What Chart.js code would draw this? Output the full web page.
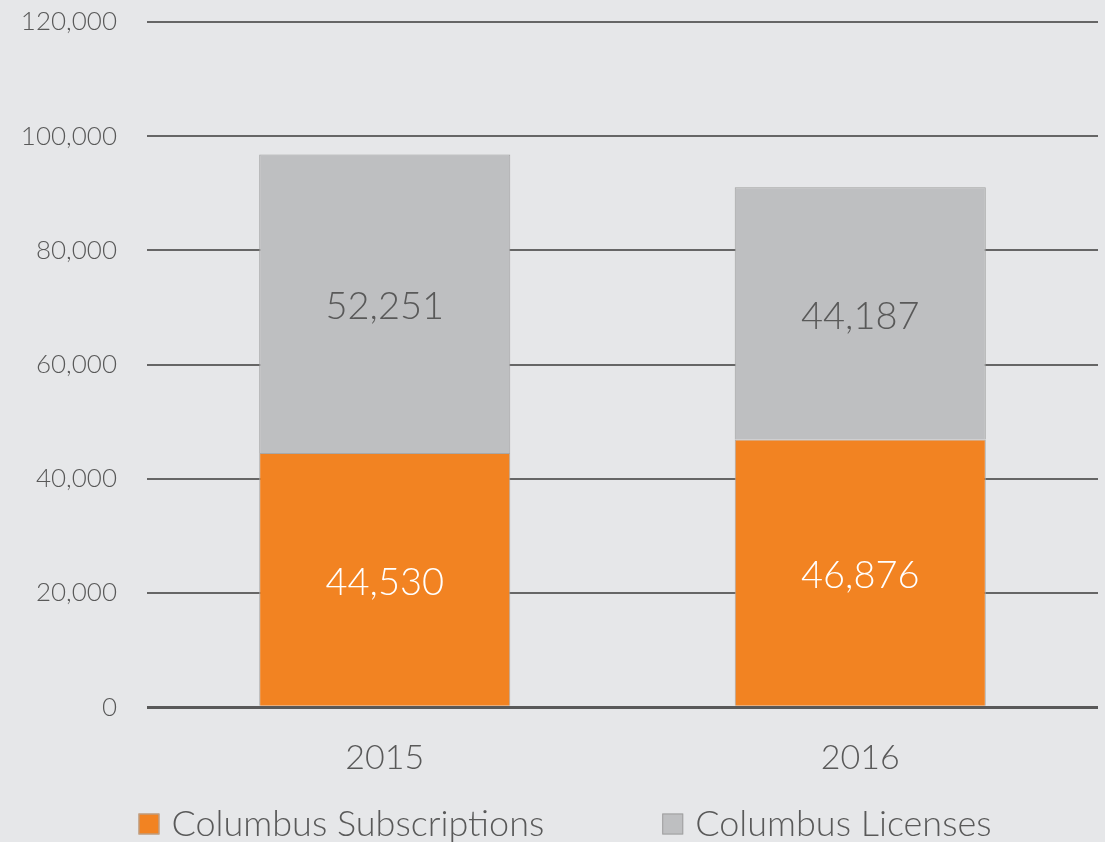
<!DOCTYPE html>
<html>
<head>
<meta charset="utf-8">
<script src="https://cdn.jsdelivr.net/npm/chart.js@4/dist/chart.umd.min.js"></script>
<style>
  html, body { margin: 0; padding: 0; background: #e6e7e9; }
  #wrap { width: 1105px; height: 842px; }
</style>
</head>
<body>
<div id="wrap"><canvas id="myChart" width="1105" height="842"></canvas></div>
<script>
/*
  • Data
  ---------- ---------- ---------- ---------- ----------
*/
const years = ['2015', '2016'];
const subscriptions = [44530, 46876];
const licenses = [52251, 44187];
const yTicks = [0, 20000, 40000, 60000, 80000, 100000, 120000];

/*
  • Config
  ---------- ---------- ---------- ---------- ----------
*/
const FONT = 'Lato';
const TEXT_GREY = '#595959';

// value in the middle of each bar segment
const labelsOnBars = {
  id: 'labelsOnBars',
  afterDatasetsDraw(chart) {
    const ctx = chart.ctx;
    ctx.save();
    ctx.font = '300 38px ' + FONT;
    ctx.textAlign = 'center';
    ctx.textBaseline = 'middle';
    chart.data.datasets.forEach(function (dataset, i) {
      const meta = chart.getDatasetMeta(i);
      meta.data.forEach(function (bar, index) {
        ctx.fillStyle = dataset.labelColor;
        const y = (bar.y + bar.base) / 2 + 3;
        ctx.fillText(dataset.data[index].toLocaleString('en-US'), bar.x, y);
      });
    });
    ctx.restore();
  }
};

// legend row under the axis, wide gap between the two items
const bottomLegend = {
  id: 'bottomLegend',
  afterDraw(chart, args, opts) {
    const ctx = chart.ctx;
    ctx.save();
    ctx.font = opts.font;
    ctx.textBaseline = 'middle';
    const items = chart.data.datasets.map(function (ds) {
      return {text: ds.label, fill: ds.backgroundColor, stroke: ds.borderColor, w: ctx.measureText(ds.label).width};
    });
    let total = opts.itemGap * (items.length - 1);
    items.forEach(function (it) { total += opts.box + opts.boxGap + it.w; });
    let x = opts.centerX - total / 2;
    items.forEach(function (it) {
      ctx.fillStyle = it.fill;
      ctx.fillRect(x, opts.y - opts.box / 2, opts.box, opts.box);
      ctx.strokeStyle = it.stroke;
      ctx.lineWidth = 1;
      ctx.strokeRect(x + 0.5, opts.y - opts.box / 2 + 0.5, opts.box - 1, opts.box - 1);
      ctx.fillStyle = TEXT_GREY;
      ctx.fillText(it.text, x + opts.box + opts.boxGap, opts.y);
      x += opts.box + opts.boxGap + it.w + opts.itemGap;
    });
    ctx.restore();
  }
};

const ctx = document.getElementById('myChart').getContext('2d');
new Chart(ctx, {
  type: 'bar',
  data: {
    labels: years,
    datasets: [{
      label: 'Columbus Subscriptions',
      data: subscriptions,
      backgroundColor: '#f28322',
      borderColor: '#a8a8a8',
      borderWidth: 1,
      labelColor: '#ffffff',
      barPercentage: 0.528,
      categoryPercentage: 1
    }, {
      label: 'Columbus Licenses',
      data: licenses,
      backgroundColor: '#bebfc1',
      borderColor: '#a0a0a0',
      borderWidth: 1,
      labelColor: TEXT_GREY,
      barPercentage: 0.528,
      categoryPercentage: 1
    }]
  },
  options: {
    responsive: false,
    animation: false,
    layout: {
      padding: {top: 22, left: 0, right: 7, bottom: 34}
    },
    plugins: {
      tooltip: {enabled: false},
      legend: {display: false},
      bottomLegend: {
        font: '300 36px ' + FONT,
        box: 21,
        boxGap: 12,
        itemGap: 118,
        centerX: 565,
        y: 824
      }
    },
    scales: {
      x: {
        stacked: true,
        grid: {display: false, drawTicks: false},
        border: {display: false},
        ticks: {
          color: TEXT_GREY,
          font: {family: FONT, size: 34, weight: 300},
          padding: 30
        }
      },
      y: {
        stacked: true,
        min: 0,
        max: 120000,
        afterFit: function (scale) {
          scale.width = 147;
          scale.paddingTop = 0;
          scale.paddingBottom = 0;
        },
        afterBuildTicks: function (scale) {
          scale.ticks = yTicks.map(v => ({value: v}));
        },
        border: {display: false},
        grid: {
          drawTicks: false,
          color: function (c) { return c.tick.value === 0 ? '#595959' : '#666666'; },
          lineWidth: function (c) { return c.tick.value === 0 ? 3 : 2; }
        },
        ticks: {
          color: TEXT_GREY,
          font: {family: FONT, size: 26, weight: 300},
          padding: 30,
          callback: function (v) { return v.toLocaleString('en-US'); }
        }
      }
    }
  },
  plugins: [labelsOnBars, bottomLegend]
});
</script>
</body>
</html>
